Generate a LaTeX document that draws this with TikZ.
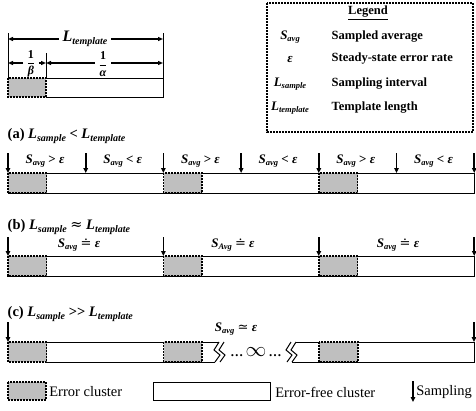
\documentclass[tikz,border=0pt]{standalone}
\usepackage{fontspec}
\usepackage{amsmath}
\setmainfont{Liberation Serif}
\newfontfamily\relfont{DejaVu Serif}
\usetikzlibrary{arrows.meta,positioning,calc}
\tikzset{every picture/.style={line width=0.75pt}}
\newcommand{\sym}[2]{\textbf{\textit{#1}}\raisebox{-0.45ex}{\fontsize{8.5}{8.5}\selectfont\bfseries\itshape #2}}
\newcommand{\symb}[2]{\textbf{\textit{#1}}\raisebox{-0.45ex}{\fontsize{10}{10}\selectfont\bfseries\itshape #2}}
\newcommand{\eps}{\textbf{\textit{ε}}}
\newcommand{\rel}[1]{{\relfont\mdseries #1}}

\begin{document}
\begin{tikzpicture}[x=1pt,y=-1pt,font=\fontsize{13}{14}\selectfont\bfseries,
    errbox/.style={draw,dash pattern=on 2pt off 1pt,line width=1.2pt,fill=gray!50},
    freebox/.style={draw,line width=1pt},
    samp/.style={line width=1.6pt,-{Triangle[length=5pt,width=4.5pt]}},
    dimtip/.style={line width=1.2pt,-{Triangle[length=5pt,width=4pt]}},
    title/.style={anchor=west,font=\fontsize{14.5}{16}\selectfont\bfseries},
    keytext/.style={anchor=west,inner xsep=1pt,font=\fontsize{14.5}{16}\selectfont},
    lgdtext/.style={anchor=west,font=\fontsize{12.5}{14}\selectfont\bfseries}]
    \useasboundingbox (0,0) rectangle (476,410);

    % Template: error cluster plus error-free part
    \draw[freebox] (46,78) -- (163,78) -- (163,97) -- (46,97);
    \draw[errbox] (8,78) rectangle (46,97);
    \draw[line width=1pt] (8,33) -- (8,78) (163,33) -- (163,78) (46,53) -- (46,78);
    \node (ltmp) at (85,39) {\fontsize{16}{16}\selectfont\symb{L}{template}};
    \coordinate (ltmpL) at (8,39);
    \coordinate (ltmpR) at (163,39);
    \draw[dimtip] (ltmp.west) -- (ltmpL);
    \draw[dimtip] (ltmp.east) -- (ltmpR);
    \node (beta) at (31,64) {\fontsize{12}{13}\selectfont$\dfrac{\text{\textbf{1}}}{\text{\textbf{\textit{β}}}}$};
    \coordinate (betaL) at (8,63);
    \coordinate (betaR) at (46,63);
    \draw[dimtip] (beta.west |- betaL) -- (betaL);
    \draw[dimtip] (beta.east |- betaR) -- (betaR);
    \node (alpha) at (103,64) {\fontsize{12}{13}\selectfont$\dfrac{\text{\textbf{1}}}{\text{\textbf{\textit{α}}}}$};
    \coordinate (alphaL) at (46,63);
    \coordinate (alphaR) at (163,63);
    \draw[dimtip] (alpha.west |- alphaL) -- (alphaL);
    \draw[dimtip] (alpha.east |- alphaR) -- (alphaR);

    % Legend box
    \draw[dash pattern=on 2pt off 1pt,line width=1.2pt] (267,3) rectangle (473,132);
    \node[font=\fontsize{12.5}{14}\selectfont\bfseries] (lgd) at (368,13) {\underline{Legend}};
    \node (kS) at (290,37) {\sym{S}{avg}};
    \node[lgdtext] (dS) at (328,37) {Sampled average};
    \node (kE) at (290,59) {\eps};
    \node[lgdtext] (dE) at (328,59) {Steady-state error rate};
    \node (kL) at (290,84) {\sym{L}{sample}};
    \node[lgdtext] (dL) at (328,84) {Sampling interval};
    \node (kT) at (290,108) {\sym{L}{template}};
    \node[lgdtext] (dT) at (328,108) {Template length};

    % (a) short sampling interval
    \node[title] (ta) at (4,136) {(a) \symb{L}{sample} < \symb{L}{template}};
    \draw[freebox] (8,173) -- (474,173) -- (474,193) -- (8,193);
    \foreach \k in {0,1,2} {
        \draw[errbox] ({8+155.5*\k},173) rectangle ({46.5+155.5*\k},193);
    }
    \foreach \k in {0,...,6} {
        \coordinate (a-top-\k) at ({8+77.7*\k},153);
        \coordinate (a-bar-\k) at ({8+77.7*\k},173);
        \draw[samp] (a-top-\k) -- (a-bar-\k);
    }
    \foreach \k/\cmp in {0/>,1/<,2/>,3/<,4/>,5/<} {
        \node (a-lab-\k) at ({45+77.7*\k},161) {\sym{S}{avg} \cmp{} \eps};
    }

    % (b) sampling interval close to template length
    \node[title] (tb) at (4,227) {(b) \symb{L}{sample} \rel{≈} \symb{L}{template}};
    \draw[freebox] (8,256) -- (474,256) -- (474,276) -- (8,276);
    \foreach \k in {0,1,2} {
        \draw[errbox] ({8+155.5*\k},256) rectangle ({46.5+155.5*\k},276);
    }
    \foreach \k in {0,...,3} {
        \coordinate (b-top-\k) at ({8+155.4*\k},237);
        \coordinate (b-bar-\k) at ({8+155.4*\k},256);
        \draw[samp] (b-top-\k) -- (b-bar-\k);
    }
    \node (b-lab-0) at (79,245) {\sym{S}{avg} \rel{≐} \eps};
    \node (b-lab-1) at (233,245) {\sym{S}{Avg} \rel{≐} \eps};
    \node (b-lab-2) at (398,245) {\sym{S}{avg} \rel{≐} \eps};

    % (c) long sampling interval, bar broken in the middle
    \node[title] (tc) at (4,314) {(c) \symb{L}{sample} {>}{>} \symb{L}{template}};
    \draw[freebox] (219,342) -- (46,342) (46,362) -- (215,362);
    \draw[freebox] (219,342) -- (214,350) -- (220,355) -- (215,362);
    \draw[freebox] (224,342) -- (219,350) -- (225,355) -- (220,362);
    \draw[freebox] (291,342) -- (286,350) -- (292,355) -- (287,362);
    \draw[freebox] (296,342) -- (291,350) -- (297,355) -- (292,362);
    \draw[freebox] (296,342) -- (474,342) -- (474,362) -- (292,362);
    \draw[errbox] (8,342) rectangle (46.5,362);
    \draw[errbox] (163.5,342) rectangle (202,362);
    \draw[errbox] (319,342) rectangle (358,362);
    \node (c-gap) at (256,352) {\dots\,{\fontsize{20}{20}\selectfont$\infty$}\,\dots};
    \node (c-lab) at (236,329) {\sym{S}{avg} \rel{≃} \eps};
    \coordinate (c-top-0) at (8,322);
    \coordinate (c-bar-0) at (8,342);
    \coordinate (c-top-1) at (474,322);
    \coordinate (c-bar-1) at (474,342);
    \draw[samp] (c-top-0) -- (c-bar-0);
    \draw[samp] (c-top-1) -- (c-bar-1);

    % Key along the bottom
    \draw[errbox] (8,382) rectangle (46,400);
    \node[keytext] (kerr) at (48,392) {Error cluster};
    \draw[line width=0.8pt] (153,382) rectangle (270,400);
    \node[keytext] (kfree) at (274,392) {Error-free cluster};
    \coordinate (ksampT) at (413,381);
    \coordinate (ksampB) at (413,402);
    \draw[samp] (ksampT) -- (ksampB);
    \node[keytext] (ksamp) at (415,392) {Sampling};
\end{tikzpicture}
\end{document}
